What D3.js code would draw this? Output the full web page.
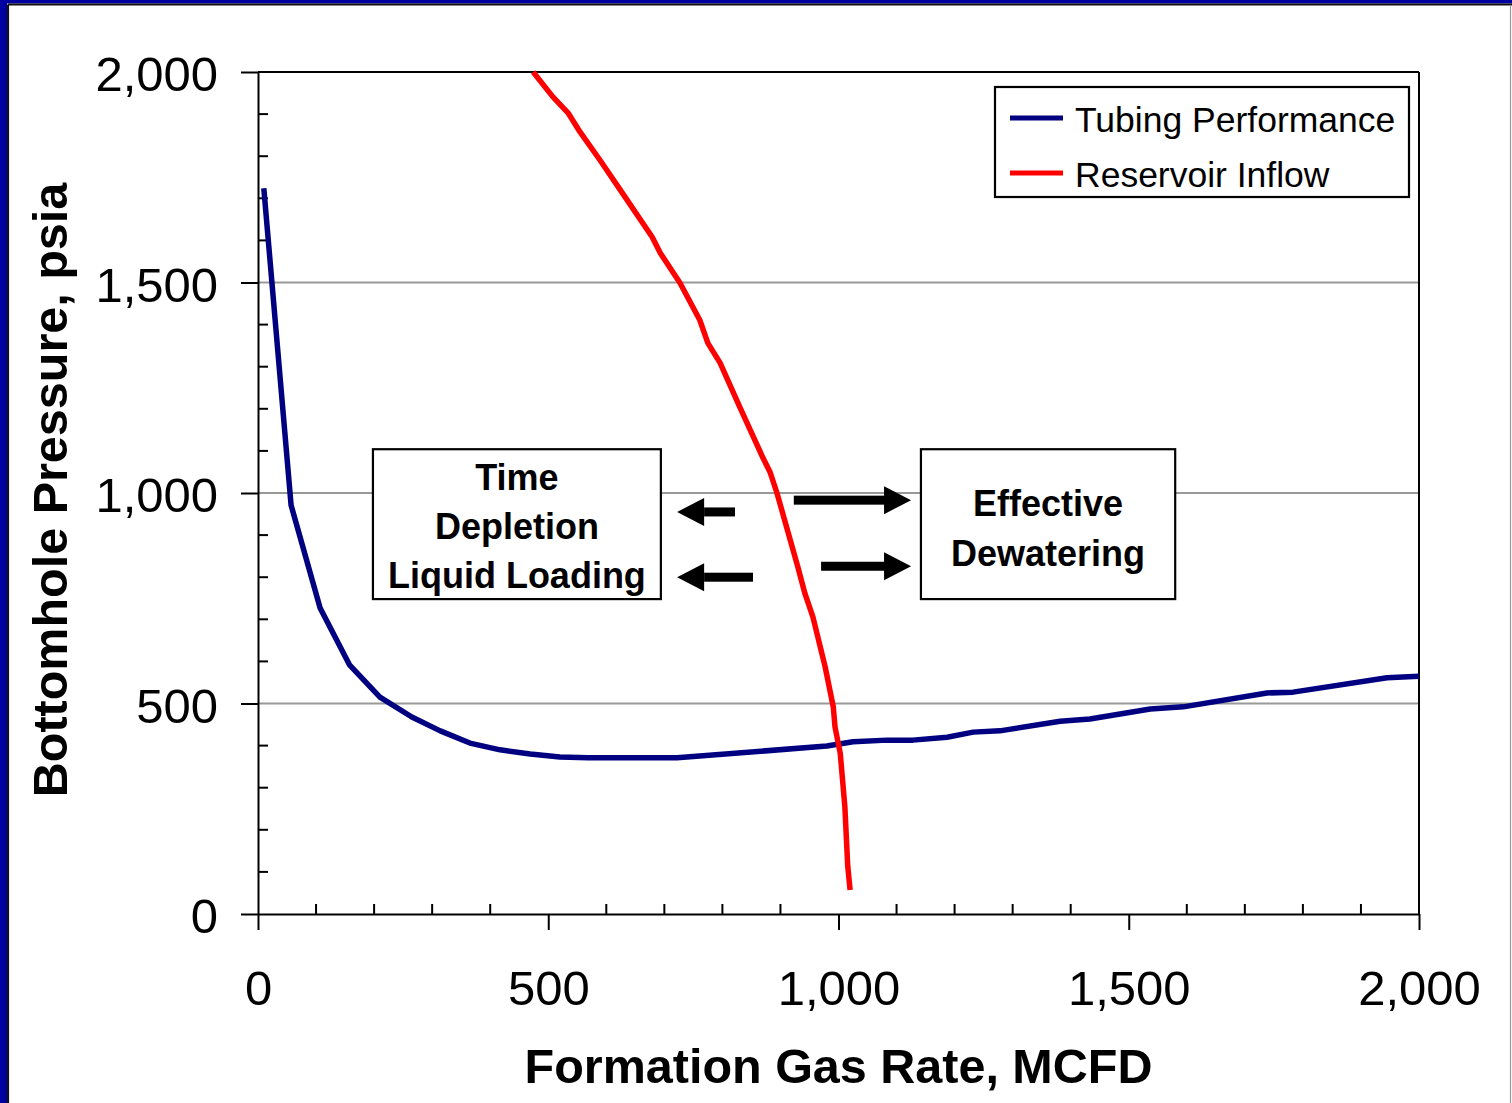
<!DOCTYPE html>
<html>
<head>
<meta charset="utf-8">
<script src="https://cdn.jsdelivr.net/npm/d3@7"></script>
<style>
  html, body { margin: 0; padding: 0; background: #fff; }
  svg { display: block; }
  text { font-family: "Liberation Sans", Arial, sans-serif; }
</style>
</head>
<body>
<script>
// ---------- data ----------
const tubingRate = [10, 57, 107, 158, 210, 265, 314, 365, 417, 469, 520, 569, 722, 980, 1025, 1084, 1128, 1187, 1232, 1278, 1382, 1433, 1537, 1594, 1738, 1783, 1945, 2000];
const tubingPressure = [1724, 971, 727, 591, 515, 468, 435, 406, 390, 380, 373, 371, 371, 399, 409, 413, 413, 420, 432, 435, 458, 463, 487, 492, 525, 527, 561, 565];

const reservoirRate = [474, 508, 534, 555, 589, 624, 679, 693, 727, 761, 775, 796, 830, 870, 882, 894, 930, 942, 956, 977, 991, 994, 1003, 1011, 1016, 1020];
const reservoirPressure = [2000, 1941, 1903, 1857, 1791, 1720, 1608, 1570, 1499, 1411, 1356, 1309, 1204, 1083, 1050, 1000, 824, 762, 705, 587, 492, 444, 382, 254, 112, 57];

const xTicks = [0, 500, 1000, 1500, 2000];
const yTicks = [0, 500, 1000, 1500, 2000];
const gridValues = [500, 1000, 1500];
const seriesNames = ["Tubing Performance", "Reservoir Inflow"];
const seriesColors = ["#000080", "#ff0000"];
const xTitle = "Formation Gas Rate, MCFD";
const yTitle = "Bottomhole Pressure, psia";

// annotation boxes (data units) and their text
const boxLeft = { x0: 198, x1: 694, y0: 748, y1: 1104, lines: ["Time", "Depletion", "Liquid Loading"] };
const boxRight = { x0: 1142, x1: 1580, y0: 748, y1: 1104, lines: ["Effective", "Dewatering"] };
// arrows: from tail to tip (data units)
const arrows = [
  { from: 820, to: 722, p: 955 },
  { from: 851, to: 722, p: 800 },
  { from: 923, to: 1125, p: 983 },
  { from: 970, to: 1125, p: 826 }
];

// ---------- drawing ----------
const W = 1512, H = 1103;
const svg = d3.select("body").append("svg").attr("width", W).attr("height", H);

svg.append("rect").attr("width", W).attr("height", H).attr("fill", "#fff");
// slide frame
svg.append("rect").attr("x", 0).attr("y", 0).attr("width", 7).attr("height", H).attr("fill", "#0000a0");
svg.append("rect").attr("x", 0).attr("y", 0).attr("width", W).attr("height", 3.5).attr("fill", "#0000a0");
svg.append("line").attr("x1", 8).attr("x2", 8).attr("y1", 4.5).attr("y2", H).attr("stroke", "#111").attr("stroke-width", 2.2);
svg.append("line").attr("x1", 8).attr("x2", W).attr("y1", 4.5).attr("y2", 4.5).attr("stroke", "#111").attr("stroke-width", 2.2);
svg.append("line").attr("x1", 1510.5).attr("x2", 1510.5).attr("y1", 5).attr("y2", H).attr("stroke", "#999").attr("stroke-width", 1.2);

const x = d3.scaleLinear().domain([0, 2000]).range([258, 1419]);
const y = d3.scaleLinear().domain([0, 2000]).range([914, 72]);

// gridlines
svg.append("g").selectAll("line").data(gridValues).join("line")
  .attr("x1", x(0)).attr("x2", x(2000))
  .attr("y1", d => y(d)).attr("y2", d => y(d))
  .attr("stroke", "#999").attr("stroke-width", 2);

// plot box top & right
svg.append("line").attr("x1", x(0)).attr("x2", x(2000)).attr("y1", y(2000)).attr("y2", y(2000)).attr("stroke", "#000").attr("stroke-width", 2);
svg.append("line").attr("x1", x(2000)).attr("x2", x(2000)).attr("y1", y(2000)).attr("y2", y(0)).attr("stroke", "#000").attr("stroke-width", 2);

// x axis: major outward, minor inward
const fmt = d3.format(",");
const xAxis = svg.append("g").attr("transform", `translate(0,${y(0)})`)
  .call(d3.axisBottom(x).tickValues(xTicks).tickSize(16).tickFormat(fmt).tickSizeOuter(0));
xAxis.select(".domain").attr("stroke-width", 2);
xAxis.selectAll(".tick line").attr("stroke-width", 2);
xAxis.selectAll(".tick text").attr("font-size", 49).attr("fill", "#000").attr("y", 0).attr("dy", 0)
  .attr("transform", "translate(0,91)");
const xMinor = d3.range(100, 2000, 100).filter(v => v % 500 !== 0);
svg.append("g").selectAll("line").data(xMinor).join("line")
  .attr("x1", d => x(d)).attr("x2", d => x(d)).attr("y1", y(0)).attr("y2", y(0) - 10)
  .attr("stroke", "#000").attr("stroke-width", 2);

// y axis
const yAxis = svg.append("g").attr("transform", `translate(${x(0)},0)`)
  .call(d3.axisLeft(y).tickValues(yTicks).tickSize(17).tickFormat(fmt).tickSizeOuter(0));
yAxis.select(".domain").attr("stroke-width", 2);
yAxis.selectAll(".tick line").attr("stroke-width", 2);
yAxis.selectAll(".tick text").attr("font-size", 49).attr("fill", "#000").attr("x", -40).attr("dy", 0).attr("y", 18.5);
const yMinor = d3.range(100, 2000, 100).filter(v => v % 500 !== 0);
svg.append("g").selectAll("line").data(yMinor).join("line")
  .attr("x1", x(0)).attr("x2", x(0) + 10).attr("y1", d => y(d)).attr("y2", d => y(d))
  .attr("stroke", "#000").attr("stroke-width", 2);

// axis titles
svg.append("text").attr("x", (x(0) + x(2000)) / 2).attr("y", 1083)
  .attr("text-anchor", "middle").attr("font-size", 48.5).attr("font-weight", "bold").text(xTitle);
svg.append("text").attr("transform", `translate(67,490) rotate(-90)`)
  .attr("text-anchor", "middle").attr("font-size", 48.5).attr("font-weight", "bold").text(yTitle);

// series
const line = d3.line().x(d => x(d[0])).y(d => y(d[1]));
const tubing = tubingRate.map((r, i) => [r, tubingPressure[i]]);
const reservoir = reservoirRate.map((r, i) => [r, reservoirPressure[i]]);
svg.append("path").datum(tubing).attr("d", line).attr("fill", "none")
  .attr("stroke", seriesColors[0]).attr("stroke-width", 5.5).attr("stroke-linejoin", "round");
svg.append("path").datum(reservoir).attr("d", line).attr("fill", "none")
  .attr("stroke", seriesColors[1]).attr("stroke-width", 5.5).attr("stroke-linejoin", "round");

// annotation boxes
function drawBox(b, baseFirst, step) {
  const g = svg.append("g");
  g.append("rect").attr("x", x(b.x0)).attr("y", y(b.y1))
    .attr("width", x(b.x1) - x(b.x0)).attr("height", y(b.y0) - y(b.y1))
    .attr("fill", "#fff").attr("stroke", "#000").attr("stroke-width", 2.2);
  const cx = (x(b.x0) + x(b.x1)) / 2;
  b.lines.forEach((t, i) => {
    g.append("text").attr("x", cx).attr("y", baseFirst + i * step)
      .attr("text-anchor", "middle").attr("font-size", 36).attr("font-weight", "bold").text(t);
  });
}
drawBox(boxLeft, 490, 49);
drawBox(boxRight, 516, 50);

// arrows
arrows.forEach(a => {
  const x0 = x(a.from), x1 = x(a.to), yy = y(a.p);
  const dir = Math.sign(x1 - x0);
  const headLen = 27, headHalf = 14, shaft = 9;
  const xb = x1 - dir * headLen;
  svg.append("rect").attr("x", Math.min(x0, xb)).attr("y", yy - shaft / 2)
    .attr("width", Math.abs(xb - x0) + 1).attr("height", shaft).attr("fill", "#000");
  svg.append("path").attr("d", `M${x1},${yy} L${xb},${yy - headHalf} L${xb},${yy + headHalf} Z`).attr("fill", "#000");
});

// legend
const lg = svg.append("g");
lg.append("rect").attr("x", 995).attr("y", 87).attr("width", 414).attr("height", 110)
  .attr("fill", "#fff").attr("stroke", "#000").attr("stroke-width", 2.2);
seriesNames.forEach((n, i) => {
  const yy = 118 + i * 55;
  lg.append("line").attr("x1", 1010).attr("x2", 1063).attr("y1", yy).attr("y2", yy)
    .attr("stroke", seriesColors[i]).attr("stroke-width", 5);
  lg.append("text").attr("x", 1075).attr("y", yy + 13.5).attr("font-size", 35.5).text(n);
});
</script>
</body>
</html>
